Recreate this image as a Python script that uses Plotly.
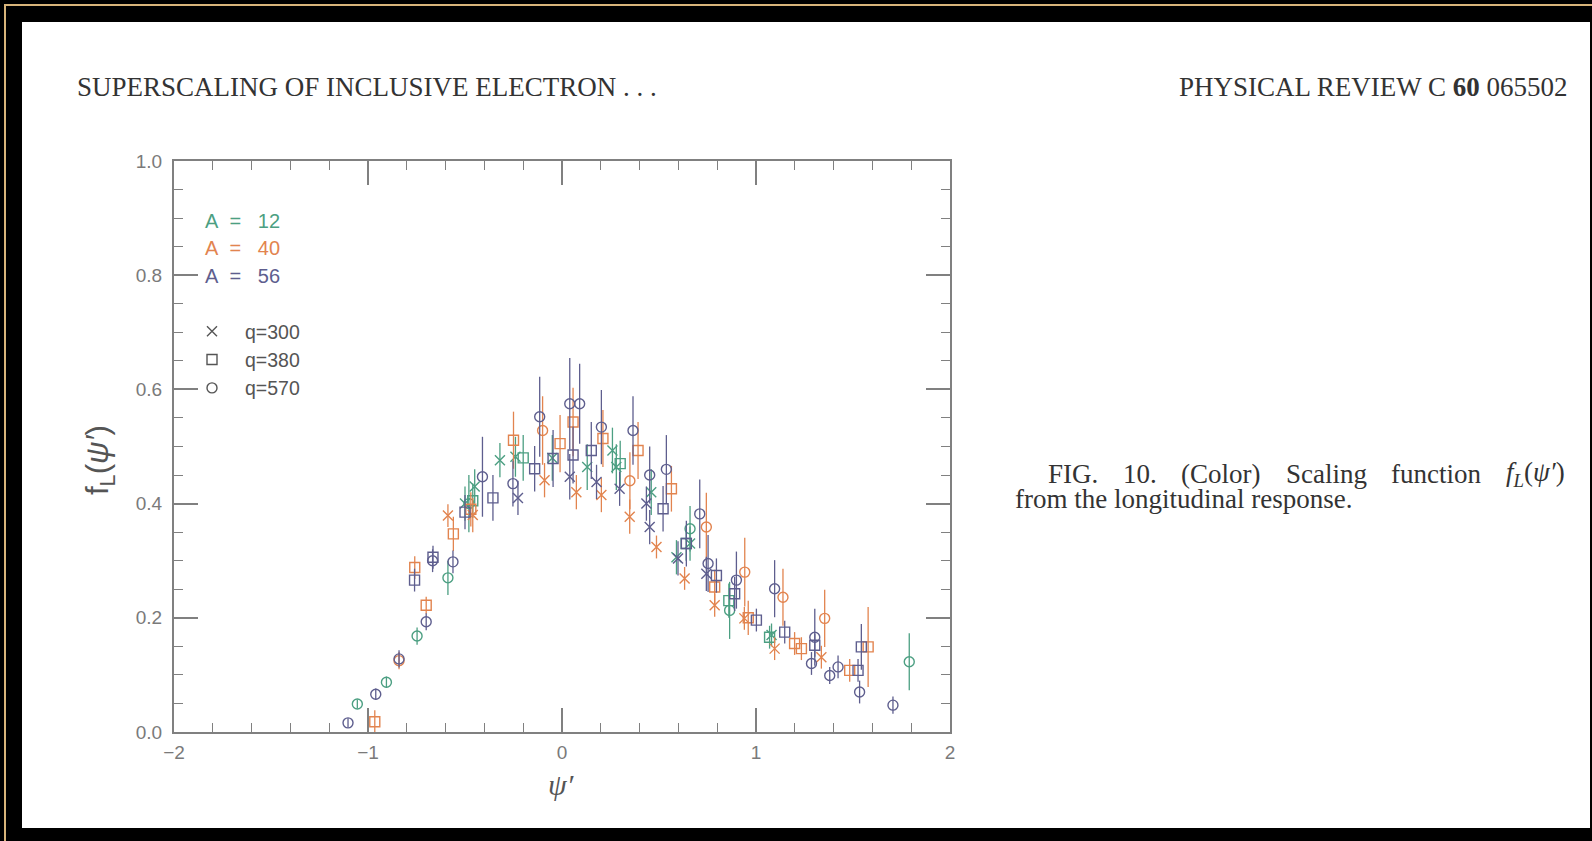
import plotly.graph_objects as go

# ---------------- data ----------------
A_LABELS = ["A = 12", "A = 40", "A = 56"]
Q_LABELS = ["q=300", "q=380", "q=570"]

A12_Q300_PSI = [-0.50, -0.45, -0.32, -0.24, -0.05, 0.13, 0.26, 0.28, 0.46, 0.59, 0.66, 1.08]
A12_Q300_F = [0.40, 0.43, 0.476, 0.482, 0.48, 0.464, 0.493, 0.464, 0.42, 0.306, 0.33, 0.17]
A12_Q300_ERR = [0.03, 0.03, 0.03, 0.035, 0.04, 0.04, 0.04, 0.04, 0.04, 0.03, 0.03, 0.02]

A12_Q380_PSI = [-0.46, -0.20, 0.30, 0.64, 0.86, 1.07]
A12_Q380_F = [0.405, 0.48, 0.47, 0.33, 0.23, 0.166]
A12_Q380_ERR = [0.03, 0.04, 0.04, 0.03, 0.03, 0.02]

A12_Q570_PSI = [-1.055, -0.905, -0.747, -0.588, -0.48, 0.66, 0.864, 1.79]
A12_Q570_F = [0.049, 0.087, 0.168, 0.27, 0.40, 0.356, 0.213, 0.123]
A12_Q570_ERR = [0.008, 0.01, 0.015, 0.03, 0.05, 0.04, 0.05, 0.05]

A40_Q300_PSI = [-0.588, -0.46, -0.09, 0.074, 0.203, 0.349, 0.487, 0.632, 0.787, 0.94, 1.096, 1.337]
A40_Q300_F = [0.379, 0.38, 0.441, 0.42, 0.415, 0.377, 0.324, 0.269, 0.222, 0.199, 0.146, 0.131]
A40_Q300_ERR = [0.02, 0.03, 0.03, 0.03, 0.03, 0.03, 0.02, 0.02, 0.02, 0.02, 0.02, 0.02]

A40_Q380_PSI = [-0.965, -0.759, -0.70, -0.56, -0.47, -0.25, -0.01, 0.057, 0.211, 0.392, 0.564,
                0.787, 0.96, 1.199, 1.234, 1.483, 1.578]
A40_Q380_F = [0.018, 0.288, 0.222, 0.347, 0.39, 0.511, 0.505, 0.543, 0.514, 0.493, 0.426,
              0.254, 0.20, 0.155, 0.146, 0.108, 0.149]
A40_Q380_ERR = [0.02, 0.02, 0.015, 0.03, 0.03, 0.05, 0.05, 0.06, 0.05, 0.05, 0.04,
                0.03, 0.03, 0.02, 0.02, 0.02, 0.07]

A40_Q570_PSI = [-0.84, -0.10, 0.35, 0.744, 0.942, 1.139, 1.354]
A40_Q570_F = [0.125, 0.528, 0.44, 0.359, 0.28, 0.236, 0.199]
A40_Q570_ERR = [0.015, 0.06, 0.05, 0.06, 0.06, 0.05, 0.05]

A56_Q300_PSI = [-0.227, 0.04, 0.178, 0.297, 0.435, 0.452, 0.598, 0.744]
A56_Q300_F = [0.41, 0.447, 0.438, 0.426, 0.40, 0.359, 0.304, 0.277]
A56_Q300_ERR = [0.03, 0.04, 0.03, 0.03, 0.03, 0.03, 0.03, 0.03]

A56_Q380_PSI = [-0.76, -0.665, -0.50, -0.356, -0.141, -0.046, 0.057, 0.151, 0.521, 0.641,
                0.796, 0.89, 1.002, 1.148, 1.303, 1.526, 1.543]
A56_Q380_F = [0.266, 0.306, 0.385, 0.41, 0.461, 0.479, 0.485, 0.493, 0.391, 0.33,
              0.274, 0.242, 0.196, 0.175, 0.152, 0.108, 0.149]
A56_Q380_ERR = [0.02, 0.02, 0.03, 0.04, 0.04, 0.05, 0.05, 0.05, 0.04, 0.04,
                0.03, 0.03, 0.02, 0.02, 0.02, 0.02, 0.04]

A56_Q570_PSI = [-1.103, -0.96, -0.84, -0.70, -0.667, -0.562, -0.41, -0.253, -0.115, 0.04,
                0.091, 0.203, 0.366, 0.452, 0.538, 0.71, 0.753, 0.899, 1.096, 1.286,
                1.303, 1.38, 1.423, 1.534, 1.706]
A56_Q570_F = [0.016, 0.066, 0.128, 0.193, 0.30, 0.298, 0.447, 0.435, 0.552, 0.575,
              0.575, 0.534, 0.528, 0.45, 0.46, 0.382, 0.295, 0.266, 0.251, 0.12,
              0.166, 0.099, 0.114, 0.07, 0.047]
A56_Q570_ERR = [0.008, 0.01, 0.015, 0.015, 0.02, 0.02, 0.07, 0.04, 0.07, 0.08,
                0.07, 0.065, 0.06, 0.05, 0.06, 0.06, 0.05, 0.05, 0.05, 0.02,
                0.05, 0.015, 0.02, 0.02, 0.015]

X_TICKS = [-2, -1, 0, 1, 2]
Y_TICKS = [0.0, 0.2, 0.4, 0.6, 0.8, 1.0]

# ---------------- styling ----------------
A_COLORS = ["#4c9f82", "#e2844f", "#5e5e8e"]
Q_SYMBOLS = ["x-thin-open", "square-open", "circle-open"]
AXIS_GREY = "#808080"
TEXT_DARK = "#333333"

SERIES = [
    (0, 0, A12_Q300_PSI, A12_Q300_F, A12_Q300_ERR),
    (0, 1, A12_Q380_PSI, A12_Q380_F, A12_Q380_ERR),
    (0, 2, A12_Q570_PSI, A12_Q570_F, A12_Q570_ERR),
    (1, 0, A40_Q300_PSI, A40_Q300_F, A40_Q300_ERR),
    (1, 1, A40_Q380_PSI, A40_Q380_F, A40_Q380_ERR),
    (1, 2, A40_Q570_PSI, A40_Q570_F, A40_Q570_ERR),
    (2, 0, A56_Q300_PSI, A56_Q300_F, A56_Q300_ERR),
    (2, 1, A56_Q380_PSI, A56_Q380_F, A56_Q380_ERR),
    (2, 2, A56_Q570_PSI, A56_Q570_F, A56_Q570_ERR),
]

W, H = 1592, 841
L, R, T, B = 174, 642, 161, 109
PW, PH = W - L - R, H - T - B


def px(X):
    return (X - L) / PW


def py(Y):
    return (H - B - Y) / PH


fig = go.Figure()

for ai, qi, xs, ys, es in SERIES:
    c = A_COLORS[ai]
    fig.add_trace(go.Scatter(
        x=xs, y=ys, mode="markers",
        name=f"{A_LABELS[ai]} {Q_LABELS[qi]}",
        showlegend=False,
        marker=dict(symbol=Q_SYMBOLS[qi], size=10, color=c,
                    line=dict(color=c, width=1.4)),
        error_y=dict(type="data", array=es, visible=True, color=c,
                     thickness=1.3, width=0),
    ))

# legend entries for the q symbols
for qi, lab in enumerate(Q_LABELS):
    fig.add_trace(go.Scatter(
        x=[None], y=[None], mode="markers", name=lab, showlegend=True,
        marker=dict(symbol=Q_SYMBOLS[qi], size=10, color="#555555",
                    line=dict(color="#555555", width=1.4)),
    ))

axis_common = dict(
    showline=True, linecolor=AXIS_GREY, linewidth=2, mirror="ticks",
    ticks="inside", tickcolor=AXIS_GREY, tickwidth=1.6, ticklen=24,
    showgrid=False, zeroline=False,
    tickfont=dict(family="Liberation Sans", size=19, color="#7a7a7a"),
)

fig.update_xaxes(
    range=[-2, 2], tickvals=X_TICKS,
    ticktext=[("\u2212" + str(-v)) if v < 0 else str(v) for v in X_TICKS],
    minor=dict(dtick=0.2, ticks="inside", ticklen=9, tickcolor=AXIS_GREY, tickwidth=1.4),
    ticklabelstandoff=2,
    **axis_common,
)
fig.update_yaxes(
    range=[0, 1], tickvals=Y_TICKS, tickformat=".1f",
    minor=dict(dtick=0.05, ticks="inside", ticklen=9, tickcolor=AXIS_GREY, tickwidth=1.4),
    ticklabelstandoff=6,
    **axis_common,
)

shapes = [
    # page
    dict(type="rect", xref="paper", yref="paper", x0=px(22), x1=px(1590), y0=py(828), y1=py(22),
         fillcolor="white", line=dict(width=0), layer="below"),
    # scan frame lines
    dict(type="line", xref="paper", yref="paper", x0=px(4), x1=px(1592), y0=py(5), y1=py(5),
         line=dict(color="#d8b47a", width=2), layer="below"),
    dict(type="line", xref="paper", yref="paper", x0=px(5), x1=px(5), y0=py(4), y1=py(841),
         line=dict(color="#d8b47a", width=2), layer="below"),
]

ann = []
serif = "Liberation Serif"
ann.append(dict(text="SUPERSCALING OF INCLUSIVE ELECTRON . . .", x=px(75), y=py(87),
                xanchor="left", yanchor="middle", font=dict(family=serif, size=27, color=TEXT_DARK)))
ann.append(dict(text="PHYSICAL REVIEW C <b>60</b> 065502", x=px(1570), y=py(87),
                xanchor="right", yanchor="middle", font=dict(family=serif, size=27, color=TEXT_DARK)))

# caption: first line justified between left indent and right margin
CAP_SIZE = 27
cap_words = ["FIG.", "10.", "(Color)", "Scaling", "function",
             "<i>f<sub>L</sub></i>(<i>\u03c8\u2032</i>)"]
cap_em = [1.861, 1.25, 2.944, 3.0, 3.333, 2.30]   # approximate word widths in em
x_left, x_right = 1046, 1566
widths = [e * CAP_SIZE for e in cap_em]
gap = (x_right - x_left - sum(widths)) / (len(widths) - 1)
xc = x_left
for w, wd in zip(cap_words, widths):
    ann.append(dict(text=w, x=px(xc), y=py(474), xanchor="left", yanchor="middle",
                    font=dict(family=serif, size=CAP_SIZE, color=TEXT_DARK)))
    xc += wd + gap
ann.append(dict(text="from the longitudinal response.", x=px(1013), y=py(499), xanchor="left",
                yanchor="middle", font=dict(family=serif, size=CAP_SIZE, color=TEXT_DARK)))

# A labels (wide spacing around "=")
for i, (lab, yy) in enumerate(zip(A_LABELS, [221, 248, 276])):
    a_txt = lab.replace(" = ", "\u00a0\u00a0=\u00a0\u00a0\u00a0")
    ann.append(dict(text=a_txt, x=px(203), y=py(yy), xanchor="left", yanchor="middle",
                    font=dict(family="Liberation Sans", size=20, color=A_COLORS[i])))

# axis titles
ann.append(dict(text="f<sub>L</sub>(<i>\u03c8\u2032</i>)", x=px(100), y=py(460), textangle=-90,
                xanchor="center", yanchor="middle",
                font=dict(family="Liberation Sans", size=31, color="#555555")))
ann.append(dict(text="<i>\u03c8\u2032</i>", x=px(561), y=py(785), xanchor="center", yanchor="middle",
                font=dict(family=serif, size=30, color="#555555")))

for a in ann:
    a.update(xref="paper", yref="paper", showarrow=False)

fig.update_layout(
    width=W, height=H,
    margin=dict(l=L, r=R, t=T, b=B, pad=0),
    paper_bgcolor="black", plot_bgcolor="rgba(0,0,0,0)",
    shapes=shapes, annotations=ann,
    legend=dict(x=px(179), y=py(312), xanchor="left", yanchor="top",
                bgcolor="rgba(0,0,0,0)", borderwidth=0, itemwidth=56,
                font=dict(family="Liberation Sans", size=19.5, color="#555555")),
)

fig.write_html("out.html")
